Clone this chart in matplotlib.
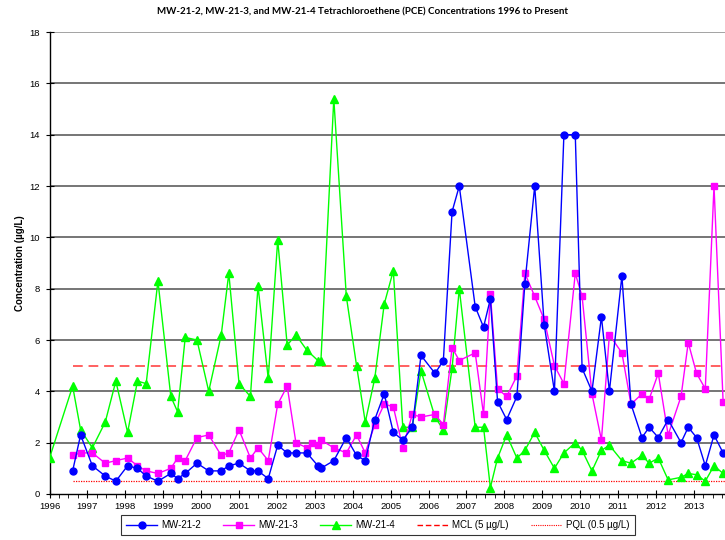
import matplotlib
matplotlib.use("Agg")
import matplotlib.pyplot as plt
from matplotlib.ticker import MultipleLocator
from matplotlib.lines import Line2D

# Sampling dates (decimal years)
dates = [1996.61, 1996.82, 1997.13, 1997.47, 1997.75, 1998.06, 1998.32, 1998.55,
         1998.86, 1999.20, 1999.38, 1999.58, 1999.89, 2000.20, 2000.53, 2000.73,
         2001.00, 2001.30, 2001.50, 2001.77, 2002.02, 2002.27, 2002.50, 2002.79,
         2003.08, 2003.16, 2003.50, 2003.83, 2004.10, 2004.33, 2004.58, 2004.83,
         2005.07, 2005.32, 2005.57, 2005.80, 2006.17, 2006.39, 2006.62, 2006.81,
         2007.23, 2007.45, 2007.63, 2007.82, 2008.06, 2008.33, 2008.54, 2008.80,
         2009.05, 2009.32, 2009.57, 2009.87, 2010.05, 2010.31, 2010.56, 2010.77,
         2011.10, 2011.34, 2011.63, 2011.82, 2012.06, 2012.32, 2012.66, 2012.85,
         2013.07, 2013.30, 2013.53, 2013.77]

# MW-21-2 PCE (ug/L)
mw2 = [0.9, 2.3, 1.1, 0.7, 0.5, 1.1, 1.0, 0.7,
       0.5, 0.8, 0.6, 0.8, 1.2, 0.9, 0.9, 1.1,
       1.2, 0.9, 0.9, 0.6, 1.9, 1.6, 1.6, 1.6,
       1.1, 1.0, 1.3, 2.2, 1.5, 1.3, 2.9, 3.9,
       2.4, 2.1, 2.6, 5.4, 4.7, 5.2, 11.0, 12.0,
       7.3, 6.5, 7.6, 3.6, 2.9, 3.8, 8.2, 12.0,
       6.6, 4.0, 14.0, 14.0, 4.9, 4.0, 6.9, 4.0,
       8.5, 3.5, 2.2, 2.6, 2.2, 2.9, 2.0, 2.6,
       2.2, 1.1, 2.3, 1.6]

# MW-21-3 has one extra sample late in 2002
dates3 = dates[:24] + [2002.93] + dates[24:]
mw3 = [1.5, 1.6, 1.6, 1.2, 1.3, 1.4, 1.1, 0.9,
       0.8, 1.0, 1.4, 1.3, 2.2, 2.3, 1.5, 1.6,
       2.5, 1.4, 1.8, 1.3, 3.5, 4.2, 2.0, 1.8, 2.0,
       1.9, 2.1, 1.8, 1.6, 2.3, 1.6, 2.7, 3.5,
       3.4, 1.8, 3.1, 3.0, 3.1, 2.7, 5.7, 5.2,
       5.5, 3.1, 7.8, 4.1, 3.8, 4.6, 8.6, 7.7,
       6.8, 5.0, 4.3, 8.6, 7.7, 3.9, 2.1, 6.2,
       5.5, 3.5, 3.9, 3.7, 4.7, 2.3, 3.8, 5.9,
       4.7, 4.1, 12.0, 3.6]

# MW-21-4 starts with an early 1996 sample
dates4 = [1996.00] + dates
mw4 = [1.4,
       4.2, 2.5, 1.8, 2.8, 4.4, 2.4, 4.4, 4.3,
       8.3, 3.8, 3.2, 6.1, 6.0, 4.0, 6.2, 8.6,
       4.3, 3.8, 8.1, 4.5, 9.9, 5.8, 6.2, 5.6,
       5.2, 5.2, 15.4, 7.7, 5.0, 2.8, 4.5, 7.4,
       8.7, 2.6, 2.6, 4.8, 3.0, 2.5, 4.9, 8.0,
       2.6, 2.6, 0.25, 1.4, 2.3, 1.4, 1.7, 2.4,
       1.7, 1.0, 1.6, 2.0, 1.7, 0.9, 1.7, 1.9,
       1.3, 1.2, 1.5, 1.2, 1.4, 0.55, 0.65, 0.8,
       0.75, 0.5, 1.1, 0.8]

mcl = 5.0
pql = 0.5
limit_start = 1996.61
year_ticks = list(range(1996, 2014))
y_ticks = list(range(0, 19, 2))

fig = plt.figure(figsize=(7.25, 5.4), dpi=100)
ax = fig.add_axes([0.0683, 0.0852, 1.0 - 0.0683, 0.8555])

label_font = "Liberation Sans"

for yv in y_ticks[1:]:
    ax.axhline(yv, color="#505050" if yv < 18 else "#8a8a8a", lw=1.1, zorder=1)

x_end = 2013.82
ax.plot([limit_start, x_end + 1], [mcl, mcl], color="#ff6060", lw=1.4,
        dashes=(5, 3), zorder=2)
ax.plot([limit_start, x_end + 1], [pql, pql], color="#ff0000", lw=0.9,
        dashes=(1, 1), zorder=2)

ax.plot(dates4, mw4, color="#00ff00", lw=1.0, marker="^", ms=5.2,
        mec="#00ff00", mfc="#00ff00", zorder=3)
ax.plot(dates3, mw3, color="#ff00ff", lw=1.0, marker="s", ms=4.8,
        mec="#ff00ff", mfc="#ff00ff", zorder=4)
ax.plot(dates, mw2, color="#0000ff", lw=1.0, marker="o", ms=5.0,
        mec="#0000ff", mfc="#0000ff", zorder=5)

ax.set_xlim(1996, x_end)
ax.set_ylim(0, 18)
ax.set_xticks(year_ticks)
ax.set_xticklabels([str(y) for y in year_ticks], fontsize=6.8, family=label_font)
ax.xaxis.set_minor_locator(MultipleLocator(0.25))
ax.set_yticks(y_ticks)
ax.set_yticklabels([str(v) for v in y_ticks], fontsize=6.8, family=label_font)
ax.tick_params(axis="x", which="major", direction="inout", length=6, width=0.8, pad=3)
ax.tick_params(axis="x", which="minor", direction="out", length=3, width=0.6)
ax.tick_params(axis="y", which="major", direction="inout", length=6, width=0.8, pad=4)

for side in ("top", "right"):
    ax.spines[side].set_visible(False)
for side in ("left", "bottom"):
    ax.spines[side].set_color("black")
    ax.spines[side].set_linewidth(1.0)

ax.set_ylabel("Concentration (\u00b5g/L)", fontsize=7, fontweight="bold",
              family=label_font, labelpad=3)

fig.text(0.5, 1 - 12 / 540, "MW-21-2, MW-21-3, and MW-21-4 Tetrachloroethene (PCE) "
         "Concentrations 1996 to Present", ha="center", va="center",
         fontsize=7, fontweight="bold", family="Lato")

handles = [
    Line2D([], [], color="#0000ff", lw=1.0, marker="o", ms=5.0),
    Line2D([], [], color="#ff00ff", lw=1.0, marker="s", ms=4.8),
    Line2D([], [], color="#00ff00", lw=1.0, marker="^", ms=5.2),
    Line2D([], [], color="#ff0000", lw=1.0, dashes=(4, 2)),
    Line2D([], [], color="#ff0000", lw=0.8, dashes=(1, 1)),
]
labels = ["MW-21-2", "MW-21-3", "MW-21-4", "MCL (5 \u00b5g/L)", "PQL (0.5 \u00b5g/L)"]
leg = fig.legend(handles, labels, loc="center", bbox_to_anchor=(378 / 725, 1 - 525 / 540),
                 ncol=5, prop={"family": label_font, "size": 7}, frameon=True,
                 fancybox=False, edgecolor="black", handlelength=3.2,
                 columnspacing=2.3, handletextpad=0.4, borderpad=0.5)
leg.get_frame().set_linewidth(0.8)

fig.savefig("out.png", dpi=100)
